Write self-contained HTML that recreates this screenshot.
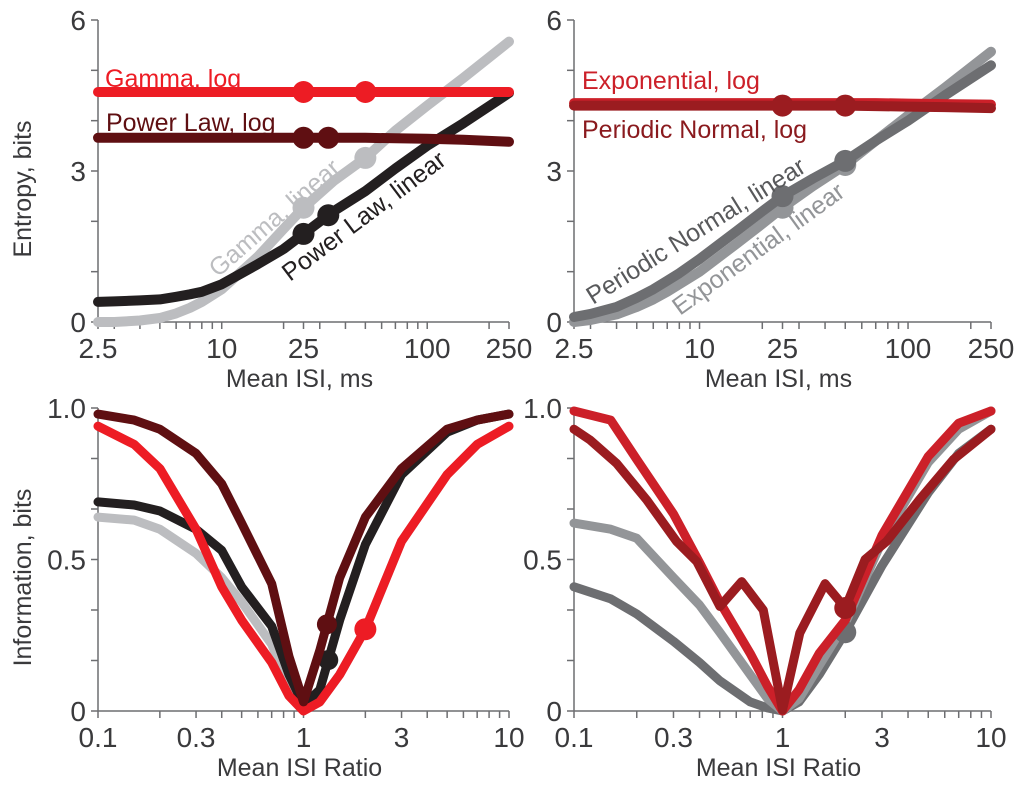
<!DOCTYPE html>
<html><head><meta charset="utf-8"><style>
body{margin:0;background:#fff;}
svg{display:block;font-family:"Liberation Sans",Arial,sans-serif;}
</style></head><body>
<svg id="fig" width="1024" height="787" viewBox="0 0 1024 787"></svg>
<script>
// ---------- data ----------
const isiTicks = [2.5, 10, 25, 100, 250];
const isiTickLabels = ["2.5", "10", "25", "100", "250"];
const isiMinor = [3,4,5,6,7,8,9,20,30,40,50,60,70,80,90,200];
const entropyTicks = [0, 3, 6];
const entropyTickLabels = ["0", "3", "6"];
const ratioTicks = [0.1, 0.3, 1, 3, 10];
const ratioTickLabels = ["0.1", "0.3", "1", "3", "10"];
const ratioMinor = [0.2,0.4,0.5,0.6,0.7,0.8,0.9,2,4,5,6,7,8,9];
const infoTicks = [0, 0.5, 1.0];
const infoTickLabels = ["0", "0.5", "1.0"];

const isiX = [2.5,3,4,5,6,7,8,10,15,20,25,35,50,70,100,150,250];
const gammaLinear = [0,0,0.03,0.08,0.17,0.28,0.4,0.65,1.3,1.85,2.27,2.8,3.26,3.8,4.3,4.85,5.57];
const powerLinear = [0.4,0.41,0.43,0.45,0.5,0.55,0.6,0.75,1.15,1.45,1.75,2.2,2.6,3.05,3.5,3.95,4.55];
const gammaLog = [4.57,4.57,4.57,4.57,4.57,4.57,4.57,4.57,4.57,4.57,4.57,4.57,4.57,4.57,4.57,4.57,4.57];
const powerLog = [3.66,3.66,3.66,3.66,3.66,3.66,3.66,3.66,3.66,3.66,3.66,3.66,3.66,3.65,3.64,3.62,3.58];
const expLog = [4.35,4.35,4.35,4.35,4.35,4.35,4.35,4.35,4.35,4.35,4.35,4.35,4.35,4.35,4.34,4.33,4.32];
const pnLog = [4.3,4.3,4.3,4.3,4.3,4.3,4.3,4.3,4.3,4.3,4.3,4.3,4.3,4.29,4.28,4.27,4.25];
const pnLinear = [0.1,0.16,0.3,0.48,0.65,0.82,0.97,1.25,1.8,2.2,2.5,2.85,3.2,3.6,4.0,4.5,5.1];
const expLinear = [0,0.04,0.15,0.3,0.45,0.6,0.75,1.0,1.55,1.95,2.27,2.7,3.12,3.6,4.1,4.65,5.37];
const gammaDots = [25, 50];
const powerDots = [25, 33];
const expDots = [25, 50];

const ratioX = [0.1,0.15,0.2,0.3,0.4,0.5,0.7,0.85,1,1.2,1.5,2,3,5,7,10];
const blGammaLinear = [0.64,0.63,0.6,0.52,0.44,0.36,0.22,0.08,0.01,0.03,0.12,0.27,0.56,0.78,0.88,0.94];
const blPowerLinear = [0.69,0.68,0.66,0.6,0.53,0.41,0.28,0.12,0.02,0.07,0.3,0.55,0.78,0.92,0.96,0.98];
const blGammaLog = [0.94,0.88,0.8,0.6,0.41,0.3,0.16,0.05,0.0,0.03,0.12,0.27,0.56,0.78,0.88,0.94];
const blPowerLog = [0.98,0.96,0.93,0.85,0.75,0.62,0.42,0.18,0.03,0.2,0.44,0.64,0.8,0.93,0.96,0.98];
const brExpLinear = [0.62,0.6,0.57,0.44,0.35,0.26,0.12,0.04,0.0,0.04,0.15,0.29,0.56,0.82,0.93,0.99];
const brPnLinear = [0.41,0.37,0.32,0.23,0.16,0.1,0.03,0.01,0.0,0.03,0.12,0.26,0.48,0.72,0.85,0.93];
const brExpLog = [0.99,0.96,0.83,0.65,0.49,0.36,0.19,0.08,0.0,0.07,0.19,0.3,0.58,0.84,0.95,0.99];
const pnZigX = [0.1,0.119,0.16,0.223,0.311,0.388,0.501,0.637,0.809,1.0,1.21,1.6,2.0,2.49,3.16,4.57,6.6,10];
const pnZigY = [0.93,0.895,0.817,0.697,0.559,0.493,0.345,0.427,0.333,0.003,0.257,0.42,0.34,0.5,0.56,0.7,0.83,0.93];

// ---------- helpers ----------
const svg = document.getElementById('fig');
const NS = 'http://www.w3.org/2000/svg';
function mk(tag, attrs, parent){const e=document.createElementNS(NS,tag);for(const k in attrs)e.setAttribute(k,attrs[k]);(parent||svg).appendChild(e);return e;}
function interp(xs, ys, x){
  for(let i=0;i<xs.length-1;i++){if(x>=xs[i]&&x<=xs[i+1]){const t=(Math.log(x)-Math.log(xs[i]))/(Math.log(xs[i+1])-Math.log(xs[i]));return ys[i]+t*(ys[i+1]-ys[i]);}}
  return ys[ys.length-1];
}
function panel(name, x0, x1, yTop, yBot, xmin, xmax, ymin, ymax){
  const sx = v => x0 + (Math.log10(v)-Math.log10(xmin))/(Math.log10(xmax)-Math.log10(xmin))*(x1-x0);
  const sy = v => yBot - (v-ymin)/(ymax-ymin)*(yBot-yTop);
  const g = mk('g', {});
  
  
  return {sx, sy, g, x0, x1, yTop, yBot};
}
function axes(p, xt, xl, xm, yt, yl, yMinorStep, ymin, ymax, xtitle, ytitle, ylabx){
  const ax = mk('g', {stroke:'#6d6e71','stroke-width':1.5,fill:'none'}, p.g);
  
  
  mk('line',{x1:p.x0,y1:p.yTop,x2:p.x0,y2:p.yBot},ax);
  mk('line',{x1:p.x0,y1:p.yBot,x2:p.x1,y2:p.yBot},ax);
  xt.concat(xm).forEach(v=>mk('line',{x1:p.sx(v),y1:p.yBot,x2:p.sx(v),y2:p.yBot+7},ax));
  for(let v=ymin; v<=ymax+1e-9; v+=yMinorStep){mk('line',{x1:p.x0-7,y1:p.sy(v),x2:p.x0,y2:p.sy(v)},ax);}
  xt.forEach((v,i)=>{const t=mk('text',{x:p.sx(v),y:p.yBot+36,'text-anchor':'middle','font-size':28,fill:'#3a3a3c'},p.g);t.textContent=xl[i];
    
    });
  yt.forEach((v,i)=>{const t=mk('text',{x:ylabx,y:p.sy(v)+10,'text-anchor':'end','font-size':28,fill:'#3a3a3c'},p.g);t.textContent=yl[i];
    
    });
  const xtl=mk('text',{x:(p.x0+p.x1)/2-4,y:p.yBot+65,'text-anchor':'middle','font-size':25,fill:'#3a3a3c'},p.g);xtl.textContent=xtitle;
  
  
  if(ytitle){const yc=(p.yTop+p.yBot)/2+18;const ytl=mk('text',{x:0,y:0,transform:`translate(31,${yc}) rotate(-90)`,'text-anchor':'middle','font-size':25,fill:'#3a3a3c'},p.g);ytl.textContent=ytitle;
    
    }
}
function series(p, xs, ys, color, w, name){
  const d = xs.map((x,i)=>(i?'L':'M')+p.sx(x).toFixed(1)+','+p.sy(ys[i]).toFixed(1)).join('');
  const e = mk('path',{d, stroke:color,'stroke-width':w,fill:'none','stroke-linecap':'round','stroke-linejoin':'round'},p.g);
  
  
}
function dots(p, xs, ys, dx, color, r, name){
  dx.forEach(x=>{const c=mk('circle',{cx:p.sx(x),cy:p.sy(interp(xs,ys,x)),r,fill:color},p.g);
    
    });
}
function label(p, txt, x, y, color, rot, name){
  const t = mk('text',{x,y,'font-size':25,fill:color,transform:rot?`rotate(${rot} ${x} ${y})`:''},p.g);
  t.textContent = txt;
  
  
}

// ---------- top-left ----------
const tl = panel('entropy-panel-gamma-power', 98, 509, 20, 322, 2.5, 250, 0, 6);
axes(tl, isiTicks, isiTickLabels, isiMinor, entropyTicks, entropyTickLabels, 1, 0, 6, 'Mean ISI, ms', 'Entropy, bits', 86);
series(tl, isiX, gammaLinear, '#bcbdc0', 10, 'gamma-linear-line');
dots(tl, isiX, gammaLinear, gammaDots, '#bcbdc0', 11, 'gamma-linear-dot');
series(tl, isiX, powerLinear, '#231f20', 10, 'power-law-linear-line');
dots(tl, isiX, powerLinear, powerDots, '#231f20', 11, 'power-law-linear-dot');
series(tl, isiX, gammaLog, '#ed1c24', 10, 'gamma-log-line');
dots(tl, isiX, gammaLog, gammaDots, '#ed1c24', 11, 'gamma-log-dot');
series(tl, isiX, powerLog, '#5f0f12', 10, 'power-law-log-line');
dots(tl, isiX, powerLog, powerDots, '#5f0f12', 11, 'power-law-log-dot');
label(tl, 'Gamma, log', 105, 87, '#ed1c24', 0, 'gamma-log-label');
label(tl, 'Power Law, log', 106, 131, '#5f0f12', 0, 'power-law-log-label');
label(tl, 'Gamma, linear', 218, 278, '#bcbdc0', -41, 'gamma-linear-label');
label(tl, 'Power Law, linear', 290, 282, '#231f20', -37, 'power-law-linear-label');

// ---------- top-right ----------
const tr = panel('entropy-panel-exp-periodic', 574, 991, 20, 322, 2.5, 250, 0, 6);
axes(tr, isiTicks, isiTickLabels, isiMinor, entropyTicks, entropyTickLabels, 1, 0, 6, 'Mean ISI, ms', null, 562);
series(tr, isiX, expLinear, '#939598', 10, 'exponential-linear-line');
dots(tr, isiX, expLinear, expDots, '#939598', 11, 'exponential-linear-dot');
series(tr, isiX, pnLinear, '#6d6e71', 10, 'periodic-normal-linear-line');
dots(tr, isiX, pnLinear, expDots, '#6d6e71', 11, 'periodic-normal-linear-dot');
series(tr, isiX, expLog, '#cc2029', 10, 'exponential-log-line');
series(tr, isiX, pnLog, '#9b1c20', 10, 'periodic-normal-log-line');
dots(tr, isiX, pnLog, expDots, '#9b1c20', 11, 'periodic-normal-log-dot');
label(tr, 'Exponential, log', 582, 89, '#cc2029', 0, 'exponential-log-label');
label(tr, 'Periodic Normal, log', 582, 138, '#8a1a1e', 0, 'periodic-normal-log-label');
label(tr, 'Periodic Normal, linear', 593, 305, '#58595b', -32, 'periodic-normal-linear-label');
label(tr, 'Exponential, linear', 680, 316, '#939598', -36, 'exponential-linear-label');

// ---------- bottom-left ----------
const bl = panel('information-panel-gamma-power', 98, 509, 408, 711, 0.1, 10, 0, 1);
axes(bl, ratioTicks, ratioTickLabels, ratioMinor, infoTicks, infoTickLabels, 1/6, 0, 1, 'Mean ISI Ratio', 'Information, bits', 86);
series(bl, ratioX, blGammaLinear, '#bcbdc0', 9, 'gamma-linear-info-line');
series(bl, ratioX, blPowerLinear, '#231f20', 9, 'power-law-linear-info-line');
dots(bl, ratioX, blPowerLinear, [1.32], '#231f20', 10, 'power-law-linear-info-dot');
series(bl, ratioX, blGammaLog, '#ed1c24', 9, 'gamma-log-info-line');
dots(bl, ratioX, blGammaLog, [2], '#ed1c24', 11, 'gamma-log-info-dot');
series(bl, ratioX, blPowerLog, '#5f0f12', 9, 'power-law-log-info-line');
dots(bl, ratioX, blPowerLog, [1.3], '#5f0f12', 10, 'power-law-log-info-dot');

// ---------- bottom-right ----------
const br = panel('information-panel-exp-periodic', 574, 991, 408, 711, 0.1, 10, 0, 1);
axes(br, ratioTicks, ratioTickLabels, ratioMinor, infoTicks, infoTickLabels, 1/6, 0, 1, 'Mean ISI Ratio', null, 562);
series(br, ratioX, brPnLinear, '#6d6e71', 9, 'periodic-normal-linear-info-line');
series(br, ratioX, brExpLinear, '#939598', 9, 'exponential-linear-info-line');
dots(br, ratioX, brPnLinear, [2], '#6d6e71', 11, 'periodic-normal-linear-info-dot');
series(br, ratioX, brExpLog, '#cc2029', 9, 'exponential-log-info-line');
series(br, pnZigX, pnZigY, '#9b1c20', 9, 'periodic-normal-log-info-line');
dots(br, pnZigX, pnZigY, [2], '#9b1c20', 11, 'periodic-normal-log-info-dot');
</script>
</body></html>
